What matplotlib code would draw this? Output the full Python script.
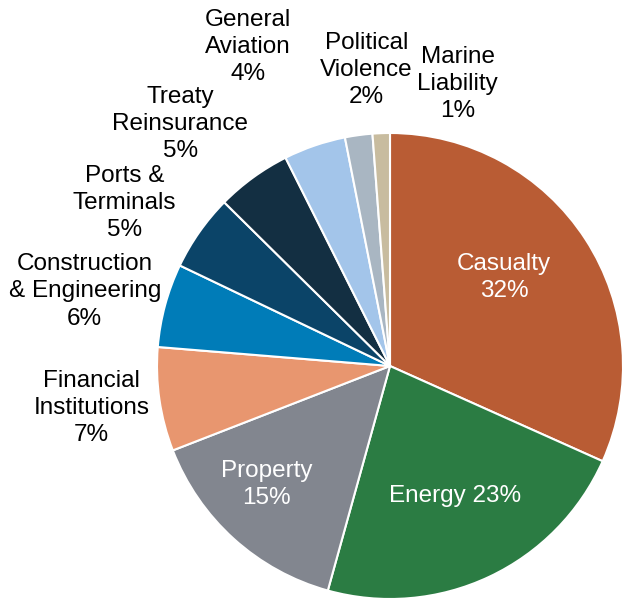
import matplotlib
matplotlib.use("Agg")
import matplotlib.pyplot as plt

plt.rcParams["font.family"] = ["Liberation Sans", "DejaVu Sans"]

# data
segments = ["Casualty", "Energy", "Property", "Financial\nInstitutions",
            "Construction\n& Engineering", "Ports &\nTerminals", "Treaty\nReinsurance",
            "General\nAviation", "Political\nViolence", "Marine\nLiability"]
shares = [31.7, 22.6, 14.8, 7.2, 5.8, 5.3, 5.2, 4.3, 1.9, 1.2]

COLORS = ["#B95C34", "#2B7C43", "#82868F", "#E8966F", "#007CB8",
          "#0B4468", "#132F42", "#A3C5EA", "#A9B6C2", "#C8BC9F"]

# label layout (axes data units, pie radius = 1)
LABEL_POS = [(0.49, 0.38), (0.28, -0.56), (-0.53, -0.51), (-1.28, -0.18),
             (-1.31, 0.32), (-1.14, 0.70), (-0.90, 1.04), (-0.61, 1.37),
             (-0.10, 1.27), (0.29, 1.21)]
INSIDE = {"Casualty", "Energy", "Property"}

fig = plt.figure(figsize=(6.22, 6.0), dpi=100)
ax = fig.add_axes([157 / 622, 1 / 600, 466 / 622, 466 / 600])

ax.pie(shares, colors=COLORS, startangle=90, counterclock=False, radius=1,
       wedgeprops={"edgecolor": "white", "linewidth": 1.5})
ax.set_xlim(-1, 1)
ax.set_ylim(-1, 1)
ax.set_aspect("equal")
ax.axis("off")

for name, val, (x, y) in zip(segments, shares, LABEL_POS):
    pct = f"{round(val)}%"
    txt = f"{name} {pct}" if name == "Energy" else f"{name}\n{pct}"
    color = "white" if name in INSIDE else "black"
    ax.text(x, y, txt, ha="center", va="center", fontsize=17.5, color=color,
            linespacing=1.3, clip_on=False)

fig.savefig("out.png", dpi=100)
